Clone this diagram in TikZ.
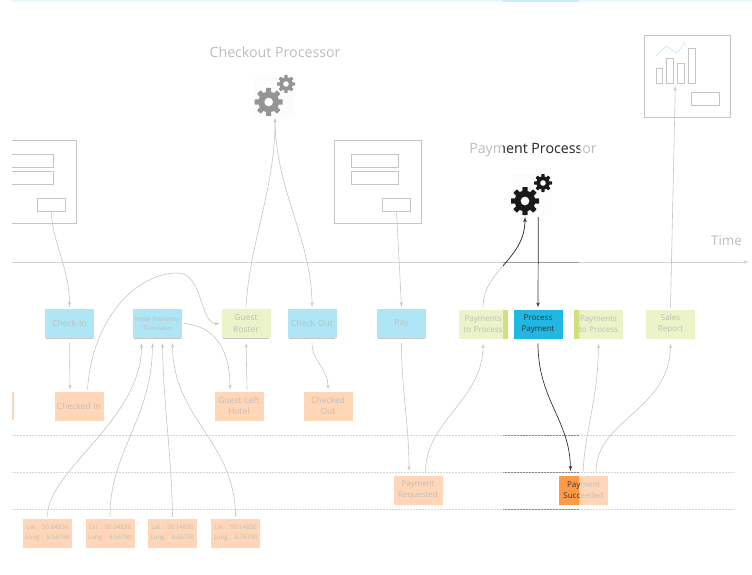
\documentclass[tikz,border=0pt]{standalone}
\usepackage{fontspec}
\setmainfont{Open Sans}
\usetikzlibrary{shapes,arrows,shadows}

\definecolor{fadeblue}{HTML}{AEE6F6}
\definecolor{fadegreen}{HTML}{EBF3C9}
\definecolor{fadeorange}{HTML}{FFD7B8}
\definecolor{fadetext}{HTML}{BDBDBD}
\definecolor{fadeline}{HTML}{C6C6C6}
\definecolor{fullblue}{HTML}{20B7E3}
\definecolor{fullgreen}{HTML}{CFE07C}
\definecolor{fullorange}{HTML}{FF9B47}
\definecolor{fulltext}{HTML}{333333}

\newcommand{\gearicon}[3]{
    \begin{scope}[shift={(#1)}, x=1pt, y=1pt]
        \foreach \ang in {0,45,...,315}
            \fill [#3, rotate=\ang, rounded corners=.4pt] (-.18*#2,.55*#2) rectangle (.18*#2,#2);
        \fill [#3] (0,0) circle ({.74*#2});
        \fill [white] (0,0) circle ({.31*#2});
    \end{scope}
}

\begin{document}
\begin{tikzpicture}[x=1pt, y=-1pt]
    \tikzstyle{sticky} = [rectangle, inner sep=0pt, outer sep=2pt, text width=49pt, text centered, minimum height=29pt, text=fadetext, font=\fontsize{8.5}{11.5}\selectfont, drop shadow={shadow xshift=0pt, shadow yshift=-1.5pt, shadow scale=.94, opacity=.45, fill=gray}]
    \tikzstyle{bluenote} = [sticky, fill=fadeblue]
    \tikzstyle{greennote} = [sticky, fill=fadegreen, font=\fontsize{8}{11.5}\selectfont]
    \tikzstyle{orangenote} = [sticky, fill=fadeorange]
    \tikzstyle{latnote} = [orangenote, font=\fontsize{6.2}{9.3}\selectfont]
    \tikzstyle{link} = [draw=fadeline, -latex', line width=.6pt]
    \tikzstyle{darklink} = [draw=fulltext, -latex', line width=.7pt]
    \tikzstyle{screen} = [draw=fadeline, line width=.7pt]
    \tikzstyle{btn} = [rectangle, draw=fadeline, line width=.7pt, inner sep=0pt, outer sep=0pt, minimum width=28.5pt, minimum height=13pt]
    \tikzstyle{title} = [text=fadetext, font=\fontsize{14.2}{17}\selectfont]
    \tikzstyle{lane} = [draw=fadeline!70, densely dotted, line width=.5pt]
    \useasboundingbox (0,0) rectangle (752,575);

    % top bar and lanes
    \fill [fill=fadeblue!30] (12,0) rectangle (752,2);
    \fill [fill=fullblue!25] (503,0) rectangle (579,2);
    \draw [lane] (12,435) -- (735,435);
    \draw [lane] (12,472) -- (735,472);
    \draw [lane] (12,509) -- (735,509);

    % time axis
    \coordinate (axisstart) at (12,262);
    \coordinate (axisend) at (749,262);
    \draw [draw=fadeline!75, -latex', line width=.8pt] (axisstart) -- (axisend);
    \node [title, font=\fontsize{13.4}{15}\selectfont] (timelabel) at (726.5,241) {Time};

    % screens
    \draw [screen] (12,140) -- (76,140) -- (76,223) -- (12,223);
    \draw [screen] (12,154) -- (53,154) -- (53,167) -- (12,167);
    \draw [screen] (12,171) -- (53,171) -- (53,184) -- (12,184);
    \node [btn] (btna) at (51.5,204.5) {};
    \draw [screen] (334.5,140) rectangle (421.5,223);
    \draw [screen] (351,154) rectangle (398.5,167);
    \draw [screen] (351,171) rectangle (398.5,184);
    \node [btn] (btnb) at (396.5,204.5) {};
    \draw [screen] (644,35) rectangle (730.5,117.5);
    \draw [screen] (656,68.5) rectangle (662.5,83);
    \draw [screen] (666.5,58) rectangle (673.5,83);
    \draw [screen] (677.5,63) rectangle (684.5,83);
    \draw [screen] (688,48.5) rectangle (695,83);
    \node [btn] (btnc) at (705.5,98.5) {};
    \draw [draw=fullblue!30, ->, line width=.6pt] (656,56) -- (666.5,46) -- (676.5,53.5) -- (685,42.5);

    % processors
    \fill [fill=black!1] (253,77) rectangle (295,117);
    \gearicon{268.7,102}{14}{black!42}
    \gearicon{286,84}{9}{black!42}
    \node [title] (checkoutlabel) at (275,52.5) {Checkout Processor};
    \coordinate (checkoutgear) at (275,118);
    \node [title] (paymentlabel) at (533,150) {Payment Processor};
    \coordinate (paymentin) at (525,217);
    \coordinate (paymentout) at (538.3,217);
    \coordinate (reportin) at (675.3,86);

    % stickies
    \fill [fill=fadeorange] (12,392) rectangle (14,420);
    \node [bluenote] (checkin) at (69.5,323.5) {Check In};
    \node [bluenote, right of=checkin, node distance=88pt, font=\fontsize{6.2}{8.8}\selectfont] (hotel) {Hotel Proximity\\Translator};
    \node [greennote, right of=hotel, node distance=88.5pt, font=\fontsize{8.5}{11.5}\selectfont] (roster) {Guest\\Roster};
    \node [bluenote, right of=roster, node distance=66pt] (checkout) {Check Out};
    \node [bluenote, right of=checkout, node distance=89.5pt] (pay) {Pay};
    \node [greennote] (topay) at (483,324) {Payments\\to Process};
    \node [greennote, right of=topay, node distance=115.5pt] (topayb) {Payments\\to Process};
    \node [greennote, right of=topayb, node distance=72pt] (sales) {Sales\\Report};

    \node [orangenote] (checkedin) at (79,406) {Checked In};
    \node [orangenote, right of=checkedin, node distance=160pt] (guestleft) {Guest Left\\Hotel};
    \node [orangenote, right of=guestleft, node distance=89pt] (checkedout) {Checked\\Out};
    \node [orangenote, font=\fontsize{8}{11.5}\selectfont] (requested) at (418,490) {Payment\\Requested};
    \node [orangenote, font=\fontsize{8}{11.5}\selectfont, right of=requested, node distance=165.5pt] (succeeded) {Payment\\Succeeded};

    \node [latnote] (lata) at (47.5,533) {Lat : 50.04836\\Long : 8.56790};
    \node [latnote, right of=lata, node distance=62.5pt] (latb) {Lat : 50.04836\\Long : 8.56790};
    \node [latnote, right of=latb, node distance=62.5pt] (latc) {Lat : 50.14836\\Long : 8.66790};
    \node [latnote, right of=latc, node distance=63pt] (latd) {Lat : 50.14836\\Long : 8.76790};

    % connectors
    \coordinate (arctop) at (178,273);
    \path [link] (btna.south) .. controls +(0,30) and +(0,-40) .. (checkin.north);
    \path [link, shorten <=3pt] (checkin.south) -- ([xshift=-9pt]checkedin.north);
    \path [link] ([xshift=8.5pt]checkedin.north) .. controls (92,320) and (135,273) .. (arctop) .. controls (203,273) and (200,325) .. (roster.west);
    \path [link] (hotel.east) .. controls (215,326) and (230,350) .. ([xshift=-9pt]guestleft.north);
    \path [link, shorten >=3pt] ([xshift=8pt]guestleft.north) -- (roster.south);
    \path [link] (roster.north) .. controls (250,240) and (275,190) .. (checkoutgear);
    \path [link] (checkoutgear) .. controls (275,190) and (312,240) .. (checkout.north);
    \path [link, shorten <=3pt] (checkout.south) .. controls +(0,22) and +(0,-22) .. (checkedout.north);
    \path [link, shorten >=3pt] (lata.north) .. controls (47,470) and (142,420) .. ([xshift=-16pt]hotel.south);
    \path [link, shorten >=3pt] (latb.north) .. controls (110,450) and (152,420) .. ([xshift=-5pt]hotel.south);
    \path [link, shorten >=3pt] (latc.north) .. controls (172,460) and (163,400) .. ([xshift=5pt]hotel.south);
    \path [link, shorten >=3pt] (latd.north) .. controls (235,440) and (173,420) .. ([xshift=15pt]hotel.south);
    \path [link] (btnb.south) -- (pay.north);
    \path [link, shorten <=3pt, shorten >=2.5pt] (pay.south) .. controls +(0,50) and +(0,-50) .. ([xshift=-9pt]requested.north);
    \path [link, shorten <=2pt, shorten >=3pt] ([xshift=7.5pt]requested.north) .. controls (426,420) and (483,400) .. (topay.south);
    \path [link] (topay.north) .. controls (483,270) and (525,260) .. (paymentin);
    \path [link, shorten <=2pt, shorten >=3pt] ([xshift=-.5pt]succeeded.north) .. controls (585,430) and (598,400) .. (topayb.south);
    \path [link, shorten <=2pt, shorten >=3pt] ([xshift=12.5pt]succeeded.north) .. controls (596,420) and (670,410) .. (sales.south);
    \path [link] (sales.north) -- (reportin);

    % highlighted column
    \begin{scope}
        \clip (503,0) rectangle (579,575);
        \fill [fill=white] (512,174) rectangle (552,216);
        \fill [fill=black!1] (512,174) rectangle (552,216);
        \gearicon{525,201}{14}{black!90}
        \gearicon{543,183}{9}{black!90}
        \node [title, text=fulltext] (paymentlabeldark) at (533,150) {Payment Processor};
        \draw [draw=black!40, line width=.8pt] (503,262) -- (579,262);
        \draw [lane, draw=black!45] (503,435) -- (579,435);
        \draw [lane, draw=black!45] (503,472) -- (579,472);
        \draw [lane, draw=black!45] (503,509) -- (579,509);
        \node [greennote, fill=fullgreen, text opacity=0] (topaydark) at (topay) {};
        \node [greennote, fill=fullgreen, text opacity=0] (topaybdark) at (topayb) {};
        \node [sticky, fill=fullblue, text=fulltext, font=\fontsize{8}{11.5}\selectfont] (process) at (538,324) {Process\\Payment};
        \node [orangenote, fill=fullorange, text=fulltext, font=\fontsize{8}{11.5}\selectfont] (succeededdark) at (succeeded) {Payment\\Succeeded};
        \path [darklink] (topay.north) .. controls (483,270) and (525,260) .. (paymentin);
        \path [darklink] (paymentout) -- (process.north);
        \path [darklink, shorten <=3pt, shorten >=2.5pt] (process.south) .. controls (538,400) and (570,420) .. ([xshift=-13pt]succeeded.north);
    \end{scope}
\end{tikzpicture}
\end{document}
